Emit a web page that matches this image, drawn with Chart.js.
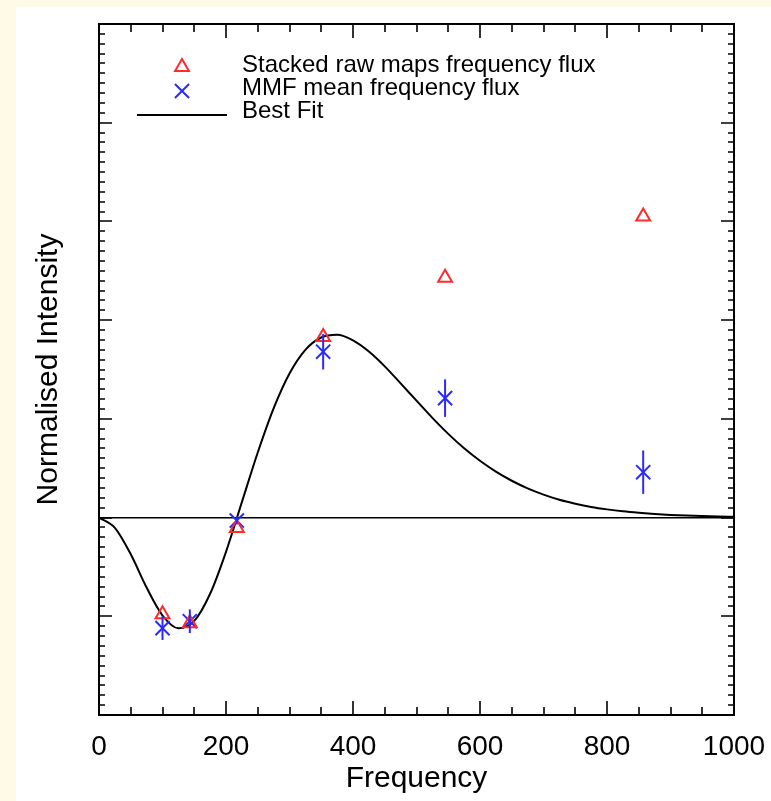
<!DOCTYPE html>
<html><head><meta charset="utf-8">
<script src="https://cdn.jsdelivr.net/npm/chart.js@4/dist/chart.umd.min.js"></script>
<style>
html,body{margin:0;padding:0;background:#fffae8;}
#wrap{position:absolute;left:16px;top:7px;width:755px;height:794px;background:#ffffff;}
canvas{display:block;}
</style></head><body>
<div id="wrap"><canvas id="c" width="755" height="794"></canvas></div>
<script>
// ---- data ----
const frequencies = [100, 143, 217, 353, 545, 857];
const rawFlux = [-0.98, -1.07, -0.105, 1.83, 2.43, 3.05];
const mmfFlux = [-1.12, -1.05, -0.03, 1.68, 1.21, 0.46];
const mmfError = [0.12, 0.12, 0.04, 0.18, 0.19, 0.22];
const fitFrequency = [0,25,50,75,100,125,150,175,200,225,250,275,300,325,350,375,400,425,450,475,500,525,550,575,600,625,650,675,700,725,750,775,800,825,850,875,900,925,950,975,1000];
const fitIntensity = [0,-0.104,-0.372,-0.709,-0.992,-1.122,-1.047,-0.772,-0.347,0.156,0.659,1.106,1.459,1.699,1.824,1.851,1.795,1.682,1.532,1.359,1.184,1.010,0.848,0.702,0.575,0.465,0.373,0.296,0.233,0.181,0.141,0.108,0.083,0.063,0.048,0.036,0.027,0.020,0.015,0.011,0.008];
const xTickLabels = [0, 200, 400, 600, 800, 1000];
const seriesNames = ['Stacked raw maps frequency flux', 'MMF mean frequency flux', 'Best Fit'];

const FONT = '"Liberation Sans", Arial, Helvetica, sans-serif';
const RED = '#ff2a2a', BLUE = '#2a2aff';

const pts = (xs, ys) => xs.map((x, i) => ({x: x, y: ys[i]}));

const decor = {
  id: 'decor',
  afterDatasetsDraw(chart) {
    const ctx = chart.ctx, a = chart.chartArea;
    const xs = chart.scales.x, ys = chart.scales.y;
    ctx.save();
    // error bars
    ctx.strokeStyle = BLUE; ctx.lineWidth = 2;
    frequencies.forEach((f, i) => {
      const px = xs.getPixelForValue(f);
      ctx.beginPath();
      ctx.moveTo(px, ys.getPixelForValue(mmfFlux[i] - mmfError[i]));
      ctx.lineTo(px, ys.getPixelForValue(mmfFlux[i] + mmfError[i]));
      ctx.stroke();
    });
    // frame
    ctx.strokeStyle = '#000'; ctx.lineWidth = 2;
    ctx.strokeRect(a.left, a.top, a.right - a.left, a.bottom - a.top);
    // x ticks (inward, top and bottom)
    ctx.lineWidth = 1.6;
    for (let v = xs.min; v <= xs.max + 1e-9; v += 50) {
      const px = Math.round(xs.getPixelForValue(v));
      const len = (v % 200 === 0) ? 14 : 8;
      ctx.beginPath();
      ctx.moveTo(px, a.bottom); ctx.lineTo(px, a.bottom - len);
      ctx.moveTo(px, a.top); ctx.lineTo(px, a.top + len);
      ctx.stroke();
    }
    // y ticks (inward, left and right)
    for (let k = 0; k <= 70; k++) {
      const v = ys.min + k * 0.1;
      const py = Math.round(ys.getPixelForValue(v));
      const len = (k % 10 === 0) ? 13 : 6;
      ctx.beginPath();
      ctx.moveTo(a.left, py); ctx.lineTo(a.left + len, py);
      ctx.moveTo(a.right, py); ctx.lineTo(a.right - len, py);
      ctx.stroke();
    }
    // legend
    const ds = chart.data.datasets;
    const sx = 166, tx = 226;
    const rows = [58, 81, 104];
    ctx.font = '24px ' + FONT;
    ctx.fillStyle = '#000';
    ctx.textBaseline = 'middle';
    ctx.textAlign = 'left';
    seriesNames.forEach((n, i) => ctx.fillText(n, tx, rows[i]));
    const H = Chart.helpers;
    ctx.strokeStyle = ds[0].borderColor; ctx.fillStyle = 'rgba(0,0,0,0)'; ctx.lineWidth = 2;
    H.drawPoint(ctx, {pointStyle: 'triangle', radius: 8, rotation: 0, borderWidth: 2}, sx, rows[0] + 2);
    ctx.strokeStyle = ds[1].borderColor;
    H.drawPoint(ctx, {pointStyle: 'crossRot', radius: 10, rotation: 0, borderWidth: 2}, sx, rows[1] + 3);
    ctx.strokeStyle = ds[2].borderColor; ctx.lineWidth = 2;
    ctx.beginPath(); ctx.moveTo(121, rows[2] + 4); ctx.lineTo(211, rows[2] + 4); ctx.stroke();
    ctx.restore();
  }
};

new Chart(document.getElementById('c'), {
  type: 'scatter',
  data: {
    datasets: [
      {label: seriesNames[0], data: pts(frequencies, rawFlux), pointStyle: 'triangle', pointRadius: 8,
       borderColor: RED, backgroundColor: 'rgba(0,0,0,0)', borderWidth: 2, order: 1},
      {label: seriesNames[1], data: pts(frequencies, mmfFlux), pointStyle: 'crossRot', pointRadius: 10,
       borderColor: BLUE, backgroundColor: BLUE, borderWidth: 2, order: 2},
      {label: seriesNames[2], data: pts(fitFrequency, fitIntensity), showLine: true, pointRadius: 0,
       borderColor: '#000', borderWidth: 2, cubicInterpolationMode: 'monotone', order: 3}
    ]
  },
  options: {
    responsive: false, animation: false, devicePixelRatio: 1,
    layout: {padding: {top: 17, right: 37, left: 0, bottom: 0}},
    plugins: {legend: {display: false}, tooltip: {enabled: false}},
    scales: {
      x: {
        type: 'linear', min: 0, max: 1000, position: 'bottom',
        afterBuildTicks: s => { s.ticks = xTickLabels.map(v => ({value: v})); },
        ticks: {font: {family: FONT, size: 28}, color: '#000', padding: 15, maxRotation: 0, autoSkip: false,
                callback: v => String(v)},
        grid: {display: false, drawTicks: false},
        border: {display: false},
        title: {display: true, text: 'Frequency', font: {family: FONT, size: 30}, color: '#000', padding: {top: 0, bottom: 4}},
        afterFit: s => { s.height = 86; s.paddingLeft = 0; s.paddingRight = 0; }
      },
      y: {
        type: 'linear', min: -2, max: 5,
        ticks: {display: false, stepSize: 1},
        grid: {drawTicks: false, color: c => (c.tick && c.tick.value === 0) ? '#000' : 'rgba(0,0,0,0)', lineWidth: 1.6},
        border: {display: false},
        title: {display: true, text: 'Normalised Intensity', font: {family: FONT, size: 30}, color: '#000', padding: {top: 15, bottom: 0}},
        afterFit: s => { s.width = 83; s.paddingTop = 0; s.paddingBottom = 0; }
      }
    }
  },
  plugins: [decor]
});
</script>
</body></html>
